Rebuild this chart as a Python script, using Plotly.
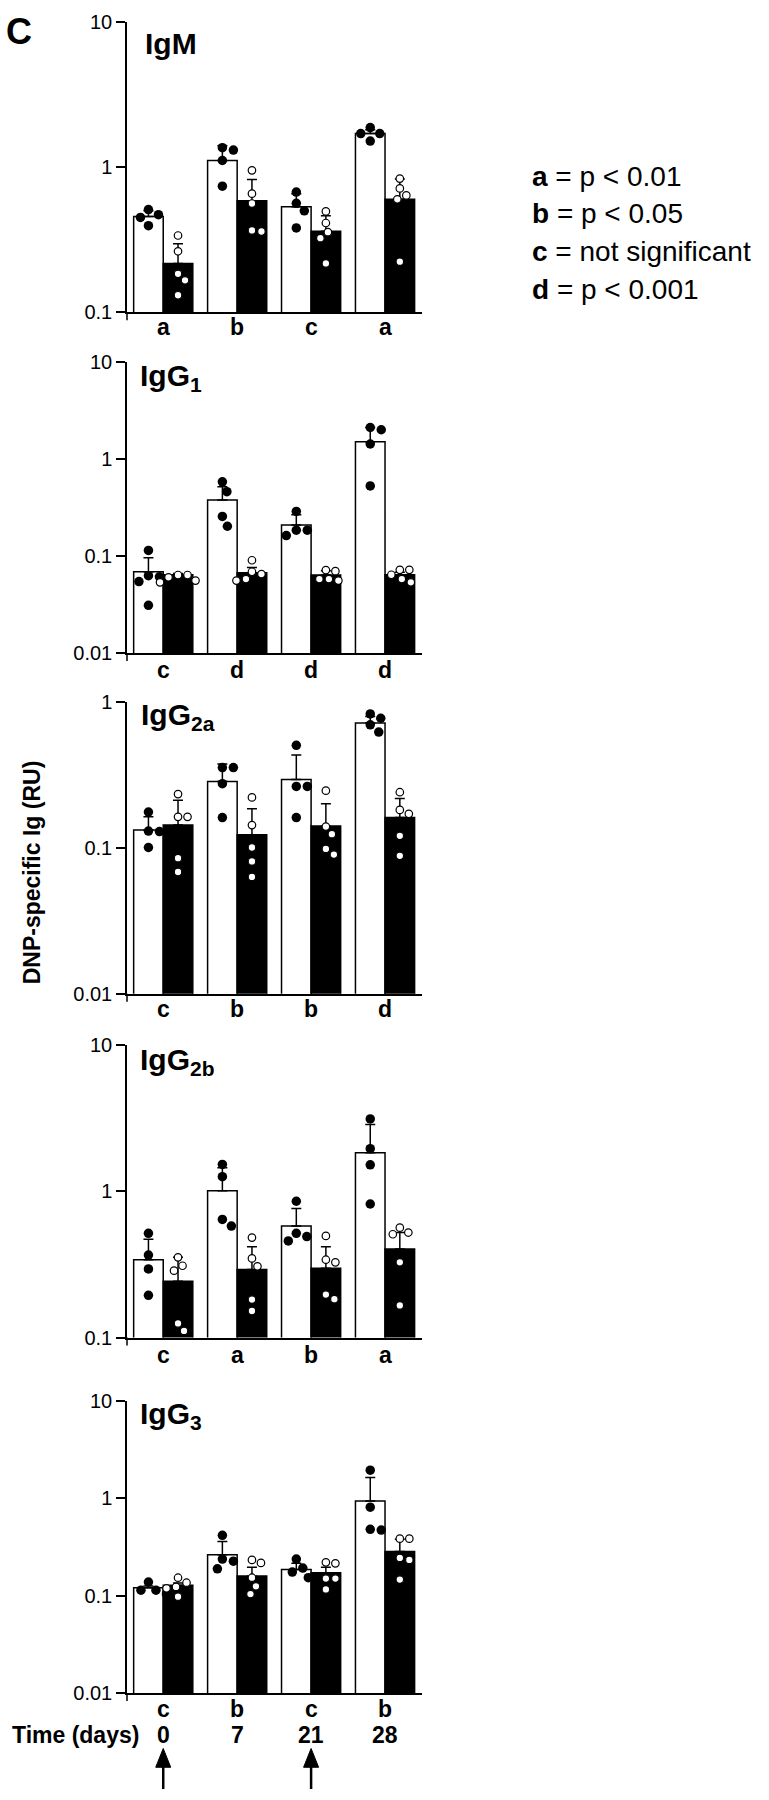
import math
import plotly.graph_objects as go

# ---------------- data ----------------
titles = ["IgM", "IgG<sub>1</sub>", "IgG<sub>2a</sub>", "IgG<sub>2b</sub>", "IgG<sub>3</sub>"]
sig_letters = [["a", "b", "c", "a"],
               ["c", "d", "d", "d"],
               ["c", "b", "b", "d"],
               ["c", "a", "b", "a"],
               ["c", "b", "c", "b"]]
days = ["0", "7", "21", "28"]
y_ticks = [0.01, 0.1, 1, 10]
y_tick_text = ["0.01", "0.1", "1", "10"]

# IgM
igm_white_mean = [0.457, 1.11, 0.532, 1.70]
igm_white_sem = [0.043, 0.29, 0.124, 0.11]
igm_black_mean = [0.217, 0.587, 0.362, 0.60]
igm_black_sem = [0.080, 0.233, 0.100, 0.229]
igm_white_pts = [[0.51, 0.45, 0.47, 0.395], [1.31, 1.36, 1.11, 0.739],
                 [0.673, 0.563, 0.50, 0.381], [1.70, 1.70, 1.87, 1.51]]
igm_black_pts = [[0.338, 0.263, 0.184, 0.166, 0.131], [0.949, 0.656, 0.561, 0.366, 0.36],
                 [0.495, 0.412, 0.324, 0.356, 0.217], [0.833, 0.713, 0.638, 0.60, 0.223]]

# IgG1
igg1_white_mean = [0.0687, 0.377, 0.208, 1.50]
igg1_white_sem = [0.027, 0.138, 0.057, 0.60]
igg1_black_mean = [0.064, 0.0672, 0.0636, 0.064]
igg1_black_sem = [0.002, 0.009, 0.0067, 0.004]
igg1_white_pts = [[0.114, 0.061, 0.0626, 0.0544, 0.031], [0.58, 0.458, 0.255, 0.202],
                  [0.287, 0.184, 0.184, 0.162], [2.10, 1.99, 1.42, 0.526]]
igg1_black_pts = [[0.0557, 0.0636, 0.0602, 0.0535, 0.0636], [0.0687, 0.0577, 0.065, 0.0903, 0.0557],
                  [0.0697, 0.0557, 0.0577, 0.0577, 0.0715], [0.0719, 0.0719, 0.064, 0.0535, 0.0578]]

# IgG2a
igg2a_white_mean = [0.133, 0.287, 0.296, 0.724]
igg2a_white_sem = [0.031, 0.091, 0.139, 0.076]
igg2a_black_mean = [0.144, 0.1235, 0.142, 0.162]
igg2a_black_sem = [0.069, 0.0625, 0.060, 0.057]
igg2a_white_pts = [[0.177, 0.131, 0.130, 0.101], [0.357, 0.357, 0.277, 0.162],
                   [0.508, 0.265, 0.265, 0.162], [0.834, 0.779, 0.702, 0.626]]
igg2a_black_pts = [[0.235, 0.164, 0.164, 0.0853, 0.0686], [0.223, 0.144, 0.101, 0.081, 0.0634],
                   [0.248, 0.1406, 0.1247, 0.0987, 0.0903], [0.242, 0.172, 0.183, 0.1215, 0.0885]]

# IgG2b
igg2b_white_mean = [0.341, 1.01, 0.579, 1.84]
igg2b_white_sem = [0.13, 0.44, 0.185, 1.03]
igg2b_black_mean = [0.243, 0.292, 0.298, 0.403]
igg2b_black_sem = [0.111, 0.126, 0.12, 0.12]
igg2b_white_pts = [[0.517, 0.367, 0.295, 0.1945], [1.53, 1.26, 0.643, 0.579],
                   [0.856, 0.517, 0.458, 0.491], [3.13, 1.96, 1.52, 0.82]]
igg2b_black_pts = [[0.354, 0.310, 0.287, 0.125, 0.111], [0.483, 0.348, 0.307, 0.182, 0.152],
                   [0.496, 0.341, 0.327, 0.197, 0.183], [0.523, 0.509, 0.565, 0.327, 0.166]]

# IgG3
igg3_white_mean = [0.121, 0.264, 0.186, 0.94]
igg3_white_sem = [0.005, 0.096, 0.029, 0.69]
igg3_black_mean = [0.128, 0.159, 0.172, 0.285]
igg3_black_sem = [0.007, 0.037, 0.024, 0.095]
igg3_white_pts = [[0.114, 0.114, 0.138, 0.104], [0.417, 0.238, 0.226, 0.189],
                  [0.238, 0.175, 0.192, 0.153], [1.94, 0.811, 0.48, 0.472]]
igg3_black_pts = [[0.153, 0.136, 0.123, 0.119, 0.0977], [0.233, 0.217, 0.153, 0.125, 0.104],
                  [0.215, 0.22, 0.150, 0.150, 0.116], [0.385, 0.385, 0.233, 0.244, 0.1465]]

white_mean = [igm_white_mean, igg1_white_mean, igg2a_white_mean, igg2b_white_mean, igg3_white_mean]
white_sem = [igm_white_sem, igg1_white_sem, igg2a_white_sem, igg2b_white_sem, igg3_white_sem]
black_mean = [igm_black_mean, igg1_black_mean, igg2a_black_mean, igg2b_black_mean, igg3_black_mean]
black_sem = [igm_black_sem, igg1_black_sem, igg2a_black_sem, igg2b_black_sem, igg3_black_sem]
white_pts = [igm_white_pts, igg1_white_pts, igg2a_white_pts, igg2b_white_pts, igg3_white_pts]
black_pts = [igm_black_pts, igg1_black_pts, igg2a_black_pts, igg2b_black_pts, igg3_black_pts]
y_log_range = [(-1, 1), (-2, 1), (-2, 0), (-1, 1), (-2, 1)]
immunisation_groups = [0, 2]

# ---------------- layout geometry ----------------
W, H = 769, 1800
FONT = "Liberation Sans, Arial, Helvetica, sans-serif"
ASC = 0.905  # font ascent (em) used to place text boxes by their baseline
PANEL_TOP = [11, 355, 700, 1047, 1407]
PANEL_BOT = [305, 650, 995, 1343, 1703]
LETTER_BASE = [328, 675, 1018, 1368, 1727]
AX_LEFT, AX_RIGHT = 127, 422
XR = (-0.49, 3.5)
BW = 0.4
PX_PER_UNIT = (AX_RIGHT - AX_LEFT) / (XR[1] - XR[0])
TITLE_FS = 30
TITLE_POS = [(145, 43), (140, 379), (141, 723), (140, 1072), (140, 1430)]  # (left, baseline)
LBL_FS = 23


def py(v):
    return 1 - v / H


def top_of(baseline, fs):
    return py(baseline - ASC * fs)


def swarm(vals, ypx, diam):
    """Prism-like column scatter: spread points that would overlap."""
    order = sorted(range(len(vals)), key=lambda i: vals[i], reverse=True)
    placed, offs = [], [0.0] * len(vals)
    cands = [0.0]
    for k in range(1, 80):
        cands += [k * 0.5, -k * 0.5]
    for i in order:
        y = ypx(vals[i])
        for c in cands:
            if all((c - a) ** 2 + (y - b) ** 2 >= diam ** 2 for a, b in placed):
                offs[i] = c
                placed.append((c, y))
                break
    return offs


def text_ann(text, x, y, fs, xref="paper", xanchor="left", **kw):
    d = dict(text=text, xref=xref, yref="paper", x=x, y=y, xanchor=xanchor, yanchor="top",
             showarrow=False, borderpad=0, borderwidth=0, font=dict(size=fs, family=FONT, color="black"))
    d.update(kw)
    return d


fig = go.Figure()
layout = dict(width=W, height=H, margin=dict(l=0, r=0, t=0, b=0),
              paper_bgcolor="white", plot_bgcolor="rgba(0,0,0,0)",
              barmode="overlay", showlegend=False,
              font=dict(family=FONT, color="black"))
annotations = []
shapes = []
groups = [0, 1, 2, 3]

for p in range(5):
    sfx = "" if p == 0 else str(p + 1)
    xa, ya = "x" + sfx, "y" + sfx
    lo, hi = y_log_range[p]
    top, bot = PANEL_TOP[p], PANEL_BOT[p]

    def ypx(v, lo=lo, hi=hi, top=top, bot=bot):
        return top + (hi - math.log10(v)) * (bot - top) / (hi - lo)

    fig.add_trace(go.Bar(x=groups, y=white_mean[p], offset=-BW, width=BW,
                         marker=dict(color="white", line=dict(color="black", width=1.5)),
                         error_y=dict(type="data", symmetric=False, array=white_sem[p],
                                      arrayminus=[0] * 4, color="black", thickness=1.5, width=5),
                         xaxis=xa, yaxis=ya, hoverinfo="skip"))
    fig.add_trace(go.Bar(x=groups, y=black_mean[p], offset=0, width=BW,
                         marker=dict(color="black", line=dict(color="black", width=1.5)),
                         error_y=dict(type="data", symmetric=False, array=black_sem[p],
                                      arrayminus=[0] * 4, color="black", thickness=1.5, width=5),
                         xaxis=xa, yaxis=ya, hoverinfo="skip"))
    wx, wy, bx, by = [], [], [], []
    for g in groups:
        offs = swarm(white_pts[p][g], ypx, 11)
        for v, o in zip(white_pts[p][g], offs):
            wx.append(g - BW / 2 + o / PX_PER_UNIT)
            wy.append(v)
        offs = swarm(black_pts[p][g], ypx, 9.5)
        for v, o in zip(black_pts[p][g], offs):
            bx.append(g + BW / 2 + o / PX_PER_UNIT)
            by.append(v)
    fig.add_trace(go.Scatter(x=wx, y=wy, mode="markers", xaxis=xa, yaxis=ya,
                             marker=dict(size=9.5, color="black", line=dict(width=0)),
                             cliponaxis=False, hoverinfo="skip"))
    fig.add_trace(go.Scatter(x=bx, y=by, mode="markers", xaxis=xa, yaxis=ya,
                             marker=dict(size=7.5, color="white", line=dict(color="black", width=1.2)),
                             cliponaxis=False, hoverinfo="skip"))

    ydom = [py(bot), py(top)]
    layout["xaxis" + sfx] = dict(domain=[AX_LEFT / W, AX_RIGHT / W], range=list(XR), anchor=ya,
                                 showline=True, linecolor="black", linewidth=1.5,
                                 showgrid=False, zeroline=False, ticks="",
                                 showticklabels=False, fixedrange=True)
    layout["yaxis" + sfx] = dict(domain=ydom, type="log", range=[lo, hi], anchor=xa,
                                 showline=True, linecolor="black", linewidth=1.5,
                                 showgrid=False, zeroline=False, ticks="outside",
                                 ticklen=9, tickwidth=1.5, tickcolor="black",
                                 tickvals=[t for t in y_ticks if lo <= math.log10(t) <= hi],
                                 ticktext=[s for t, s in zip(y_ticks, y_tick_text) if lo <= math.log10(t) <= hi],
                                 tickfont=dict(size=20, family=FONT, color="black"),
                                 fixedrange=True)
    # y-axis line extending slightly below the x-axis (Prism style)
    shapes.append(dict(type="line", xref="paper", yref="paper",
                       x0=AX_LEFT / W, x1=AX_LEFT / W, y0=py(bot), y1=py(bot + 8),
                       line=dict(color="black", width=1.5)))
    # significance letters under each group (on the x scale)
    for g, s in zip(groups, sig_letters[p]):
        annotations.append(text_ann("<b>%s</b>" % s, g, top_of(LETTER_BASE[p], LBL_FS), LBL_FS,
                                    xref=xa, xanchor="center"))
    # panel title
    tx, tb = TITLE_POS[p]
    annotations.append(text_ann("<b>%s</b>" % titles[p], tx / W, top_of(tb, TITLE_FS), TITLE_FS))

# panel letter
annotations.append(text_ann("<b>C</b>", 6 / W, top_of(33, 36), 36))
# y-axis title
annotations.append(dict(text="<b>DNP-specific Ig (RU)</b>", xref="paper", yref="paper",
                        x=32 / W, y=py(872), xanchor="center", yanchor="middle", textangle=-90,
                        showarrow=False, font=dict(size=23, family=FONT)))
# time row
annotations.append(text_ann("<b>Time (days)</b>", 139 / W, top_of(1753, LBL_FS), LBL_FS, xanchor="right"))
for g, d in zip(groups, days):
    annotations.append(text_ann("<b>%s</b>" % d, g, top_of(1753, LBL_FS), LBL_FS, xref="x5", xanchor="center"))
# immunisation arrows (day 0 and day 21): shaft + triangular head
half = 7.5 / PX_PER_UNIT
for g in immunisation_groups:
    shapes.append(dict(type="line", xref="x5", yref="paper", x0=g, x1=g,
                       y0=py(1800), y1=py(1774), line=dict(color="black", width=2.5)))
    shapes.append(dict(type="path", xref="x5", yref="paper",
                       path="M %f,%f L %f,%f L %f,%f Z" % (g - half, py(1778), g, py(1759), g + half, py(1778)),
                       fillcolor="black", line=dict(color="black", width=1)))
# significance legend
legend_lines = ["<b>a</b> = p &lt; 0.01", "<b>b</b> = p &lt; 0.05",
                "<b>c</b> = not significant", "<b>d</b> = p &lt; 0.001"]
legend_base = [177, 215, 253, 291.5]
for t, b in zip(legend_lines, legend_base):
    annotations.append(text_ann(t, 532 / W, top_of(b, 28), 28))

layout["annotations"] = annotations
layout["shapes"] = shapes
fig.update_layout(**layout)
fig.write_html("out.html", config={"displayModeBar": False},
               post_script="document.body.style.margin='0';document.body.style.padding='0';")
